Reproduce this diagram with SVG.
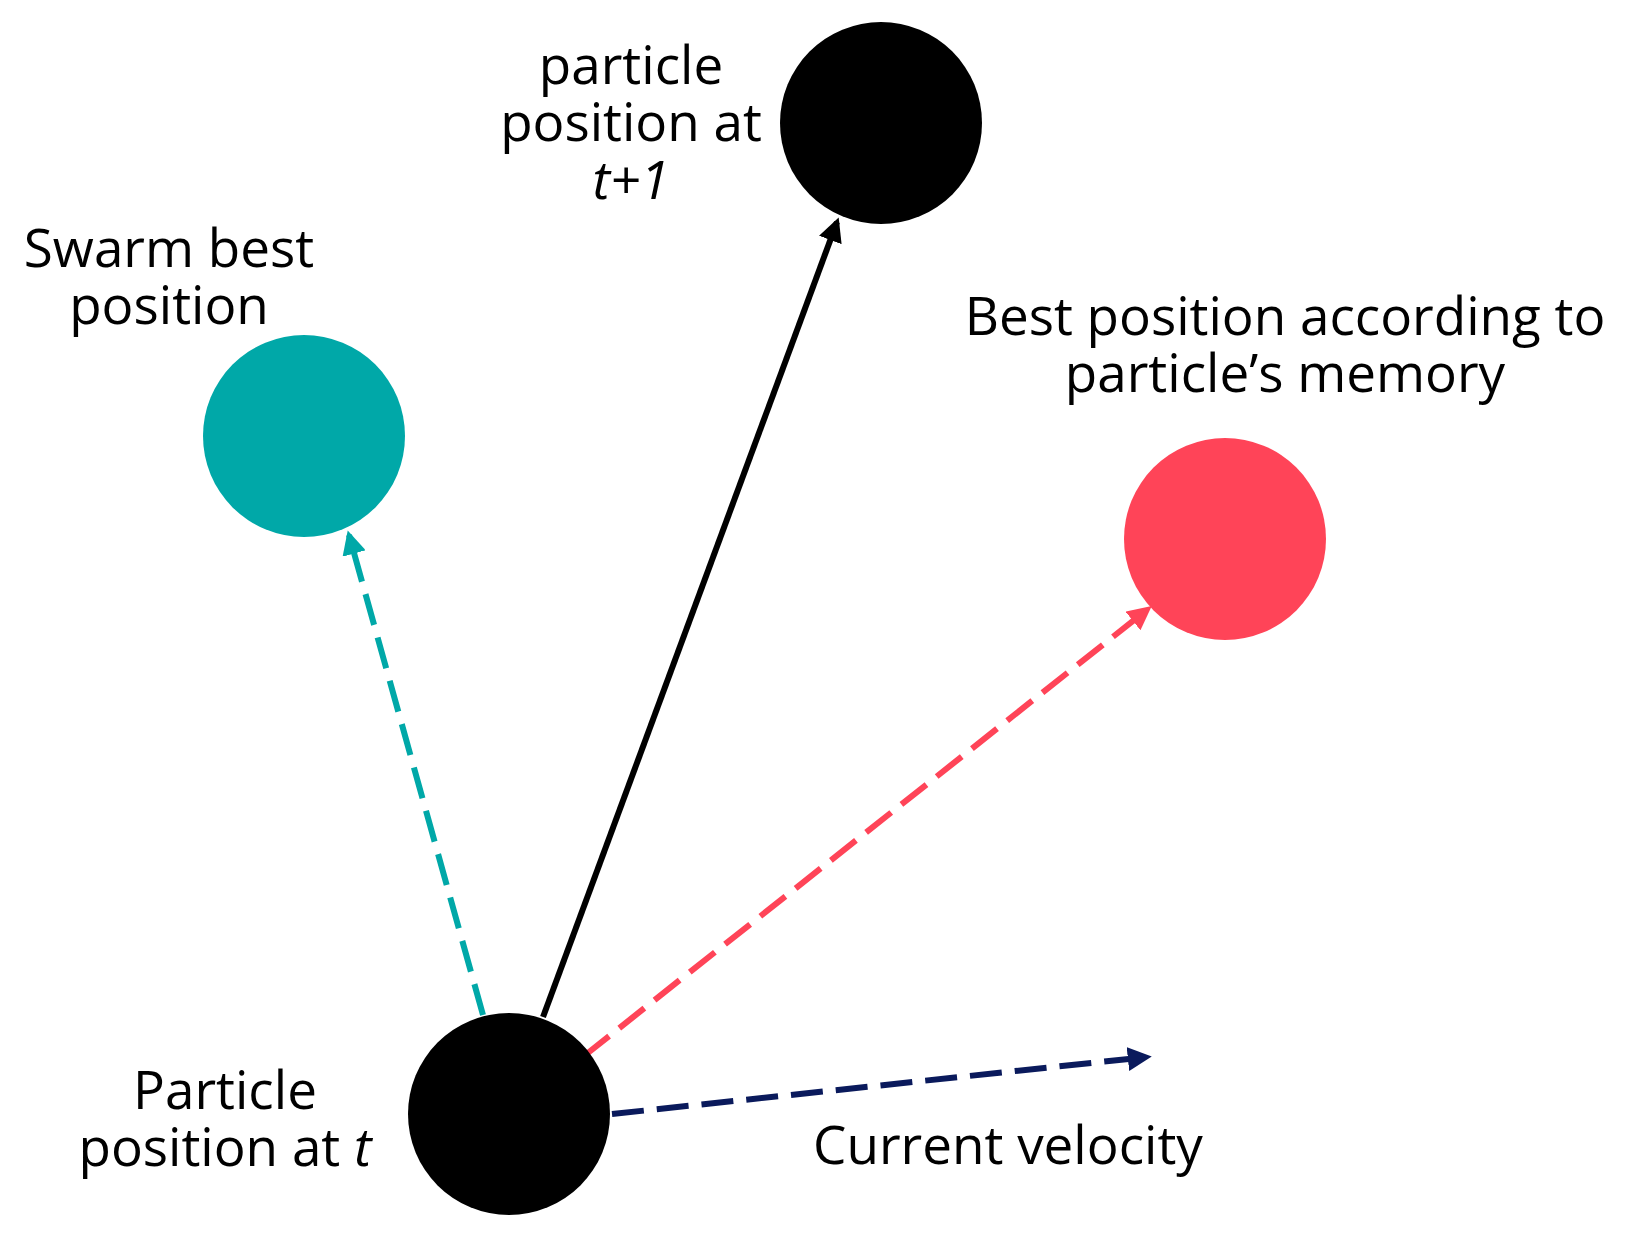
<svg xmlns="http://www.w3.org/2000/svg" width="1632" height="1236" viewBox="0 0 1632 1236">
<style>
text{font-family:"Open Sans","Liberation Sans",sans-serif;font-size:53px;fill:#000}
.c{text-anchor:middle}
line{stroke-width:6}
</style>
<defs>
<marker id="ab" viewBox="0 0 10 10" refX="8" refY="5" markerWidth="4" markerHeight="4" orient="auto"><path d="M0,0 L10,5 L0,10 z" fill="#000"/></marker>
<marker id="at" viewBox="0 0 10 10" refX="8" refY="5" markerWidth="4" markerHeight="4" orient="auto"><path d="M0,0 L10,5 L0,10 z" fill="#00A8A8"/></marker>
<marker id="ar" viewBox="0 0 10 10" refX="8" refY="5" markerWidth="4" markerHeight="4" orient="auto"><path d="M0,0 L10,5 L0,10 z" fill="#FF4458"/></marker>
<marker id="an" viewBox="0 0 10 10" refX="8" refY="5" markerWidth="4" markerHeight="4" orient="auto"><path d="M0,0 L10,5 L0,10 z" fill="#0A1A5C"/></marker>
</defs>
<rect width="1632" height="1236" fill="#fff"/>
<g id="connectors">
<line x1="483" y1="1015" x2="349" y2="535" stroke="#00A8A8" stroke-dasharray="32,13" marker-end="url(#at)"/>
<line x1="543" y1="1017" x2="837" y2="222" stroke="#000" stroke-width="5" marker-end="url(#ab)"/>
<line x1="584" y1="1056" x2="1148" y2="609" stroke="#FF4458" stroke-dasharray="32,13" marker-end="url(#ar)"/>
<line x1="612" y1="1114" x2="1147" y2="1057" stroke="#0A1A5C" stroke-dasharray="32,13" marker-end="url(#an)"/>
</g>
<g id="next"><circle cx="881" cy="123" r="101" fill="#000"/>
<text class="c" x="631" y="84">particle</text><text class="c" x="631" y="141">position at</text><text class="c" x="631" y="199" font-style="italic">t+1</text></g>
<g id="swarm"><circle cx="304" cy="436" r="101" fill="#00A8A8"/>
<text class="c" x="169" y="267">Swarm best</text><text class="c" x="169" y="324">position</text></g>
<g id="pbest"><circle cx="1225" cy="539" r="101" fill="#FF4458"/>
<text class="c" x="1285" y="335">Best position according to</text><text class="c" x="1285" y="392">particle’s memory</text></g>
<g id="current"><circle cx="509" cy="1114" r="101" fill="#000"/>
<text class="c" x="225" y="1109">Particle</text><text class="c" x="225" y="1166">position at <tspan font-style="italic">t</tspan></text></g>
<g id="vel"><text x="813" y="1164">Current velocity</text></g>
</svg>
